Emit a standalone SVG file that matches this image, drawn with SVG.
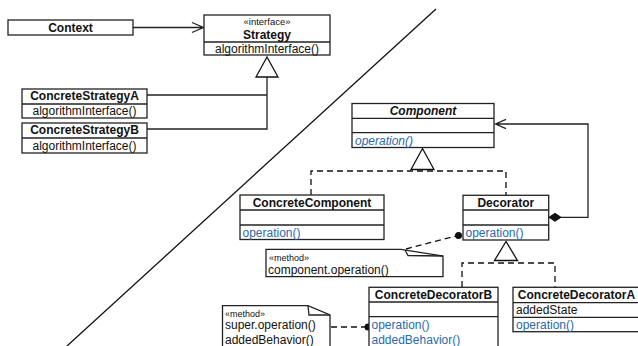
<svg xmlns="http://www.w3.org/2000/svg" width="638" height="346" viewBox="0 0 638 346">
<defs>
<style>
text{font-family:"Liberation Sans",Arial,Helvetica,sans-serif;fill:#111;}
.t{font-size:12px;font-weight:bold;text-anchor:middle;}
.ti{font-size:12px;font-weight:bold;font-style:italic;text-anchor:middle;}
.m{font-size:12px;}
.op{font-size:12px;fill:#2a69ad;}
.opi{font-size:12px;fill:#2a69ad;font-style:italic;}
.st{font-size:9px;}
.box{fill:#fff;stroke:#222;stroke-width:1.3;}
.ln{fill:none;stroke:#222;stroke-width:1.3;}
.ds{fill:none;stroke:#111;stroke-width:1.3;stroke-dasharray:6,4;}
.tri{fill:#fff;stroke:#111;stroke-width:1.3;}
</style>
</defs>
<rect width="638" height="346" fill="#fff"/>
<line x1="436" y1="9" x2="67" y2="346" stroke="#111" stroke-width="1.3"/>
<g id="connectors">
<path class="ln" d="M133,27.5 H203.5 M192,22.5 L203.5,27.5 L192,32.5"/>
<path class="ln" d="M147,95 H267 V77 M147,129 H267 V95"/>
<polygon class="tri" points="267,57 256,77 278,77"/>
<path class="ds" d="M311,195 V171 H506 V195"/>
<polygon class="tri" points="422.5,148.5 411,169.5 434,169.5"/>
<path class="ln" d="M561,217.3 H588 V124 H495.5 M506,119.3 L495.5,124 L506,128.7"/>
<polygon points="549,217.3 555,213.3 561,217.3 555,221.3" fill="#111" stroke="#111" stroke-width="1"/>
<path class="ds" d="M462,287 V263 H555 V287"/>
<polygon class="tri" points="506,241.5 494.5,260.5 517.5,260.5"/>
<path class="ds" d="M406,249 L456,236"/>
<circle cx="458.5" cy="235.5" r="3.5" fill="#111"/>
<path class="ds" d="M331,327 H365"/>
<circle cx="368" cy="327" r="3.5" fill="#111"/>
</g>
<g id="context">
<rect class="box" x="8" y="20" width="125" height="15"/>
<text class="t" x="70.5" y="32">Context</text>
</g>
<g id="strategy">
<rect class="box" x="204" y="15" width="126" height="40"/>
<line class="ln" x1="204" y1="42" x2="330" y2="42"/>
<text class="st" x="267" y="25" text-anchor="middle" style="font-size:9.5px">«interface»</text>
<text class="t" x="267" y="38.5">Strategy</text>
<text class="m" x="267" y="53" text-anchor="middle">algorithmInterface()</text>
</g>
<g id="concreteStrategyA">
<rect class="box" x="22" y="89" width="125" height="29"/>
<line class="ln" x1="22" y1="104" x2="147" y2="104"/>
<text class="t" x="84.5" y="100">ConcreteStrategyA</text>
<text class="m" x="84.5" y="115" text-anchor="middle">algorithmInterface()</text>
</g>
<g id="concreteStrategyB">
<rect class="box" x="22" y="123" width="125" height="30"/>
<line class="ln" x1="22" y1="138" x2="147" y2="138"/>
<text class="t" x="84.5" y="134">ConcreteStrategyB</text>
<text class="m" x="84.5" y="149.5" text-anchor="middle">algorithmInterface()</text>
</g>
<g id="component">
<rect class="box" x="352" y="103.5" width="142" height="44"/>
<line class="ln" x1="352" y1="118.3" x2="494" y2="118.3"/>
<line class="ln" x1="352" y1="132.7" x2="494" y2="132.7"/>
<text class="ti" x="423" y="115">Component</text>
<text class="opi" x="355" y="144.5">operation()</text>
</g>
<g id="concreteComponent">
<rect class="box" x="240" y="195" width="144" height="44.5"/>
<line class="ln" x1="240" y1="210" x2="384" y2="210"/>
<line class="ln" x1="240" y1="225" x2="384" y2="225"/>
<text class="t" x="312" y="207">ConcreteComponent</text>
<text class="op" x="242.5" y="237">operation()</text>
</g>
<g id="decorator">
<rect class="box" x="463" y="195.3" width="85.7" height="44.7"/>
<line class="ln" x1="463" y1="210" x2="548.7" y2="210"/>
<line class="ln" x1="463" y1="225" x2="548.7" y2="225"/>
<text class="t" x="505.8" y="207">Decorator</text>
<text class="op" x="465.5" y="237">operation()</text>
</g>
<g id="note1">
<path class="box" d="M266,249.3 H401 L443,256 V276.7 H266 Z"/>
<path class="ln" d="M405,250 L408,255.5 L443,256"/>
<text class="st" x="269" y="260.5">«method»</text>
<text class="m" x="268" y="274">component.operation()</text>
</g>
<g id="concreteDecoratorB">
<rect class="box" x="369" y="287.3" width="129" height="70"/>
<line class="ln" x1="369" y1="302" x2="498" y2="302"/>
<line class="ln" x1="369" y1="316.7" x2="498" y2="316.7"/>
<text class="t" x="433.5" y="299">ConcreteDecoratorB</text>
<text class="op" x="371.5" y="329">operation()</text>
<text class="op" x="371.5" y="343.5">addedBehavior()</text>
</g>
<g id="concreteDecoratorA">
<rect class="box" x="513" y="287.3" width="127" height="44.4"/>
<line class="ln" x1="513" y1="302.7" x2="640" y2="302.7"/>
<line class="ln" x1="513" y1="317.3" x2="640" y2="317.3"/>
<text class="t" x="576.5" y="299">ConcreteDecoratorA</text>
<text class="m" x="516" y="314">addedState</text>
<text class="op" x="516" y="329">operation()</text>
</g>
<g id="note2">
<path class="box" d="M222.5,305.7 H308 L330,315 V360 H222.5 Z"/>
<path class="ln" d="M308,306 L309,315 H330"/>
<text class="st" x="225" y="316.5">«method»</text>
<text class="m" x="225" y="329">super.operation()</text>
<text class="m" x="225" y="343.5">addedBehavior()</text>
</g>
</svg>
